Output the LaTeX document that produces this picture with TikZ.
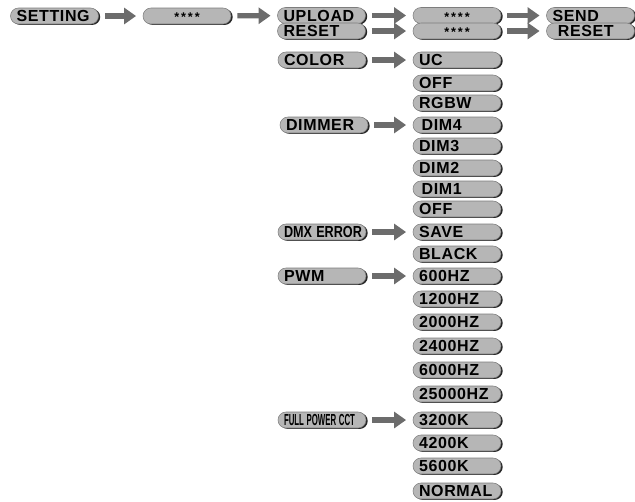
\documentclass[tikz,border=0pt]{standalone}
\usepackage{fontspec}
\usepackage{graphicx}
\usetikzlibrary{arrows.meta}
\usetikzlibrary{shadows}
\newfontfamily\menufont[LetterSpace=4]{Liberation Sans}
\newfontfamily\plainfont{Liberation Sans}
\newfontfamily\codefont[LetterSpace=15]{Liberation Sans}
\newcommand\squeeze[2]{\scalebox{#1}[1]{\plainfont\bfseries #2}}
\definecolor{pillgray}{RGB}{182,182,182}
\definecolor{rimgray}{RGB}{125,125,125}
\definecolor{arrowgray}{RGB}{108,108,108}
\tikzset{
  pill/.style={rectangle, rounded corners=6pt, fill=pillgray, draw=rimgray, line width=0.4pt,
    drop shadow={shadow xshift=1.3pt, shadow yshift=-0.7pt, fill=black!85, opacity=1},
    minimum height=12pt, text height=8.6pt, text depth=0pt, inner ysep=0pt, inner xsep=4.5pt,
    text width=57pt, align=left, font=\menufont\bfseries\fontsize{12}{14}\selectfont},
  code/.style={pill, align=center, font=\codefont\bfseries\fontsize{9.5}{10}\selectfont},
  goto/.style={draw=arrowgray, line width=4pt, -{Triangle[length=9pt,width=12pt]},
    shorten <=4.5pt, shorten >=5pt},
}

\begin{document}
\begin{tikzpicture}[x=0.75pt,y=0.75pt,yscale=-1,xscale=1]
\useasboundingbox (0,0) rectangle (635,501);

\node [pill] (setting) at (54.5,16) {SETTING};
\node [code] (pwset) at (187,16) {****};
\node [pill] (upload) at (321.5,15.5) {UPLOAD};
\node [code] (pwup) at (457,15.5) {****};
\node [pill] (send) at (590.5,15.5) {SEND};
\node [pill] (reset) at (321.5,31) {RESET};
\node [code] (pwrst) at (457,31) {****};
\node [pill] (resetok) at (590.5,31) {\hspace{4pt}RESET};

\node [pill] (color) at (322,60) {COLOR};
\node [pill] (uc) at (457,60) {UC};
\node [pill] (coloff) at (457,83) {OFF};
\node [pill] (rgbw) at (457,103) {RGBW};

\node [pill] (dimmer) at (324,125) {DIMMER};
\node [pill] (dim4) at (457,125) {\hspace{2pt}DIM4};
\node [pill] (dim3) at (457,146) {DIM3};
\node [pill] (dim2) at (457,168) {DIM2};
\node [pill] (dim1) at (457,189) {\hspace{2pt}DIM1};
\node [pill] (dimoff) at (457,209) {OFF};

\node [pill] (dmx) at (322,232) {\squeeze{0.79}{DMX ERROR}};
\node [pill] (save) at (457,232) {SAVE};
\node [pill] (black) at (457,254) {BLACK};

\node [pill] (pwm) at (322,276) {PWM};
\node [pill] (hza) at (457,276) {600HZ};
\node [pill] (hzb) at (457,299) {1200HZ};
\node [pill] (hzc) at (457,322) {2000HZ};
\node [pill] (hzd) at (457,346) {2400HZ};
\node [pill] (hze) at (457,370) {6000HZ};
\node [pill] (hzf) at (457,394) {25000HZ};

\node [pill] (cct) at (322,420) {\squeeze{0.49}{FULL POWER CCT}};
\node [pill] (ka) at (457,420) {3200K};
\node [pill] (kb) at (457,443) {4200K};
\node [pill] (kc) at (457,466) {5600K};
\node [pill] (normal) at (457,491) {NORMAL};

\draw [goto] (setting) -- (pwset);
\draw [goto] (pwset) -- (upload);
\draw [goto] (upload) -- (pwup);
\draw [goto] (pwup) -- (send);
\draw [goto] (reset) -- (pwrst);
\draw [goto] (pwrst) -- (resetok);
\draw [goto] (color) -- (uc);
\draw [goto] (dimmer) -- (dim4);
\draw [goto] (dmx) -- (save);
\draw [goto] (pwm) -- (hza);
\draw [goto] (cct) -- (ka);

\end{tikzpicture}
\end{document}
